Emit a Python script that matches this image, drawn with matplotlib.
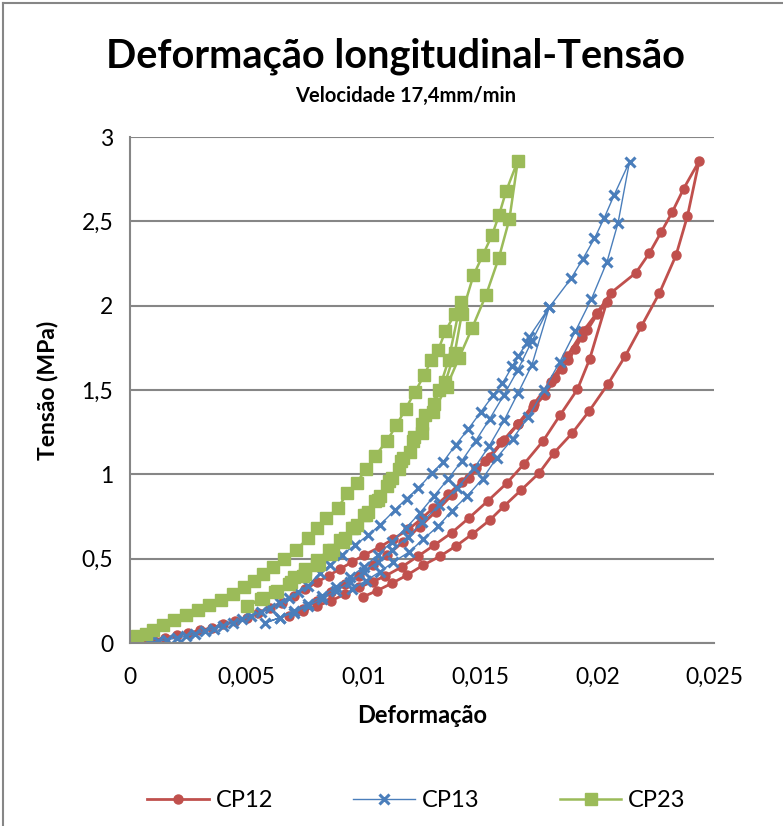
import matplotlib
matplotlib.use("Agg")
import matplotlib.pyplot as plt
from matplotlib.lines import Line2D

plt.rcParams['font.family'] = ['Lato', 'DejaVu Sans']

# CP12: carga 1, descarga 1, carga 2, descarga 2
cp12_def = [0.0000, 0.0005, 0.0010, 0.0015, 0.0020, 0.0025, 0.0030, 0.0035, 0.0040, 0.0045,
            0.0050, 0.0055, 0.0060, 0.0065, 0.0070, 0.0075, 0.0080, 0.0085, 0.0090, 0.0095,
            0.0100, 0.0107, 0.01124, 0.01192, 0.01249, 0.01299, 0.01363, 0.0142, 0.01483, 0.01541,
            0.01602, 0.01662, 0.01727, 0.01775, 0.01819, 0.01849, 0.01876, 0.01905, 0.01933, 0.01958,
            0.0200, 0.0204,
            0.01967, 0.01915, 0.01841, 0.01768, 0.01687, 0.01612, 0.01531, 0.01452, 0.01377, 0.01303,
            0.01234, 0.01163, 0.01092, 0.01039, 0.0098, 0.0092, 0.0086, 0.0080, 0.0074, 0.0068,
            0.0074, 0.0080, 0.0086, 0.0092, 0.0098, 0.0104, 0.0110, 0.0117, 0.0124, 0.0131,
            0.0138, 0.0145, 0.0152, 0.0159, 0.0166, 0.0173, 0.0180, 0.0187, 0.0194, 0.0200,
            0.02059, 0.02165, 0.02223, 0.02273, 0.0232, 0.0237, 0.02436,
            0.02386, 0.02337, 0.02266, 0.02189, 0.02119, 0.02045, 0.01965, 0.01893, 0.01815, 0.01751,
            0.01674, 0.01601, 0.0154, 0.01465, 0.01397, 0.01326, 0.01254, 0.01184, 0.01123, 0.01057,
            0.00999]
cp12_ten = [0.00, 0.01, 0.02, 0.03, 0.045, 0.06, 0.075, 0.09, 0.11, 0.13,
            0.15, 0.18, 0.21, 0.24, 0.28, 0.32, 0.36, 0.40, 0.44, 0.48,
            0.52, 0.57, 0.615, 0.674, 0.739, 0.802, 0.882, 0.957, 1.036, 1.101,
            1.204, 1.297, 1.398, 1.47, 1.569, 1.623, 1.678, 1.742, 1.813, 1.856,
            1.95, 2.02,
            1.682, 1.504, 1.352, 1.198, 1.063, 0.947, 0.842, 0.743, 0.654, 0.581,
            0.516, 0.451, 0.397, 0.364, 0.33, 0.29, 0.25, 0.22, 0.19, 0.16,
            0.20, 0.25, 0.30, 0.35, 0.40, 0.46, 0.52, 0.60, 0.69, 0.78,
            0.88, 0.98, 1.08, 1.19, 1.30, 1.42, 1.55, 1.70, 1.85, 1.96,
            2.077, 2.195, 2.312, 2.435, 2.553, 2.695, 2.858,
            2.532, 2.299, 2.075, 1.879, 1.70, 1.534, 1.375, 1.245, 1.128, 1.008,
            0.907, 0.812, 0.729, 0.646, 0.577, 0.514, 0.461, 0.401, 0.356, 0.31,
            0.275]

# CP13
cp13_def = [0.0000, 0.0004, 0.0008, 0.0012, 0.0016, 0.0020, 0.0024, 0.0028, 0.0032, 0.0036,
            0.0040, 0.0044, 0.0048, 0.0052, 0.0056, 0.0060, 0.0064, 0.0068, 0.0072, 0.0076,
            0.00813, 0.00856, 0.00906, 0.00963, 0.0102, 0.0107, 0.01134, 0.01184, 0.01234, 0.01291,
            0.01341, 0.01395, 0.01448, 0.01502, 0.01555, 0.01594, 0.01637, 0.01662, 0.01698, 0.01709,
            0.01794,
            0.0172, 0.0166, 0.01602, 0.01538, 0.01473, 0.01399, 0.01324, 0.01251, 0.0119, 0.0112,
            0.0106, 0.0100, 0.0094, 0.0088, 0.0082, 0.0076, 0.0070, 0.0064, 0.0058,
            0.0064, 0.0070, 0.0076, 0.0082, 0.0088, 0.0094, 0.0100, 0.0106, 0.0112, 0.0118,
            0.0124, 0.0130, 0.0136, 0.0142, 0.0148, 0.0154, 0.0160, 0.0166, 0.0172, 0.01794,
            0.01888, 0.01938, 0.01988, 0.02029, 0.02073, 0.02138,
            0.02089, 0.02042, 0.01975, 0.01906, 0.01839, 0.01772, 0.01704, 0.01638, 0.01569, 0.01509,
            0.01444, 0.01377, 0.0132, 0.01256, 0.01196, 0.01127, 0.0107, 0.0101, 0.0095]
cp13_ten = [0.00, 0.00, 0.005, 0.01, 0.02, 0.03, 0.04, 0.055, 0.07, 0.085,
            0.10, 0.12, 0.14, 0.16, 0.185, 0.21, 0.24, 0.27, 0.30, 0.34,
            0.413, 0.462, 0.522, 0.581, 0.64, 0.70, 0.789, 0.857, 0.917, 1.006,
            1.075, 1.177, 1.269, 1.371, 1.47, 1.54, 1.642, 1.702, 1.78, 1.816,
            1.99,
            1.648, 1.48, 1.322, 1.17, 1.036, 0.917, 0.818, 0.719, 0.63, 0.551,
            0.48, 0.42, 0.36, 0.31, 0.26, 0.22, 0.18, 0.15, 0.12,
            0.15, 0.19, 0.23, 0.28, 0.33, 0.39, 0.45, 0.52, 0.60, 0.68,
            0.77, 0.87, 0.97, 1.08, 1.20, 1.33, 1.47, 1.62, 1.79, 1.99,
            2.162, 2.277, 2.399, 2.518, 2.659, 2.854,
            2.492, 2.262, 2.04, 1.848, 1.666, 1.50, 1.338, 1.212, 1.097, 0.974,
            0.873, 0.783, 0.694, 0.617, 0.541, 0.48, 0.423, 0.37, 0.32]

# CP23
cp23_def = [0.0000, 0.0003, 0.0007, 0.0010, 0.0014, 0.0019, 0.0024, 0.0029, 0.0034, 0.0039,
            0.0044, 0.0049, 0.0053, 0.0057, 0.0061, 0.0066, 0.0071, 0.0076, 0.0080, 0.0084,
            0.0089, 0.0093, 0.0097, 0.0101, 0.0105, 0.0110, 0.0114, 0.0118, 0.0122, 0.0126,
            0.0129, 0.0132, 0.0135, 0.0139, 0.01415,
            0.01364, 0.01322, 0.01263, 0.01215, 0.0117, 0.0112, 0.0107, 0.0102, 0.0097, 0.0092,
            0.0087, 0.0081, 0.0075, 0.0069, 0.0063, 0.0057, 0.0050,
            0.0056, 0.0062, 0.0068, 0.0074, 0.0080, 0.0086, 0.0091, 0.0096, 0.0101, 0.0106,
            0.0111, 0.0116, 0.0121, 0.0125, 0.0130, 0.0135, 0.0139, 0.0142, 0.0147, 0.0151,
            0.0155, 0.0158, 0.0161, 0.0166,
            0.01624, 0.01579, 0.01524, 0.01465, 0.01408, 0.01355, 0.01298, 0.01248, 0.0120, 0.0115,
            0.0110, 0.0105, 0.0100, 0.0095, 0.0090, 0.0085, 0.0080, 0.0075, 0.0070]
cp23_ten = [0.03, 0.04, 0.055, 0.075, 0.105, 0.135, 0.165, 0.195, 0.225, 0.255,
            0.29, 0.33, 0.37, 0.41, 0.45, 0.50, 0.55, 0.62, 0.68, 0.74,
            0.80, 0.89, 0.95, 1.03, 1.11, 1.20, 1.29, 1.39, 1.49, 1.59,
            1.68, 1.74, 1.85, 1.95, 2.02,
            1.68, 1.50, 1.35, 1.22, 1.10, 0.98, 0.87, 0.78, 0.70, 0.62,
            0.55, 0.47, 0.41, 0.36, 0.31, 0.27, 0.22,
            0.26, 0.30, 0.35, 0.40, 0.46, 0.53, 0.60, 0.68, 0.76, 0.85,
            0.96, 1.08, 1.20, 1.30, 1.42, 1.55, 1.72, 1.95, 2.18, 2.30,
            2.42, 2.54, 2.68, 2.86,
            2.514, 2.285, 2.064, 1.87, 1.69, 1.52, 1.37, 1.243, 1.13, 1.03,
            0.93, 0.84, 0.76, 0.68, 0.61, 0.55, 0.49, 0.44, 0.39]

x_ticks = [0, 0.005, 0.01, 0.015, 0.02, 0.025]
x_labels = ["0", "0,005", "0,01", "0,015", "0,02", "0,025"]
y_ticks = [0, 0.5, 1, 1.5, 2, 2.5, 3]
y_labels = ["0", "0,5", "1", "1,5", "2", "2,5", "3"]

vermelho = "#C0504D"
azul = "#4A7EBB"
verde = "#9BBB59"

fig = plt.figure(figsize=(7.83, 8.26), dpi=100)
ax = fig.add_axes([0.166, 0.2215, 0.746, 0.6125])

ax.plot(cp12_def, cp12_ten, color=vermelho, lw=2, marker="o", ms=6.5, label="CP12")
ax.plot(cp13_def, cp13_ten, color=azul, lw=1, marker="x", ms=7, mew=2.2, label="CP13")
ax.plot(cp23_def, cp23_ten, color=verde, lw=1.8, marker="s", ms=8, label="CP23")

ax.set_xlim(0, 0.025)
ax.set_ylim(0, 3)
ax.set_xticks(x_ticks)
ax.set_xticklabels(x_labels)
ax.set_yticks(y_ticks)
ax.set_yticklabels(y_labels)
ax.tick_params(length=0, labelsize=16.5)
ax.tick_params(axis="x", pad=17)
ax.tick_params(axis="y", pad=12)
ax.yaxis.grid(True, color="#868686", lw=1.5)
ax.set_axisbelow(True)
for s in ["top", "right"]:
    ax.spines[s].set_visible(False)
for s in ["left", "bottom"]:
    ax.spines[s].set_color("#868686")
    ax.spines[s].set_linewidth(1.5)

ax.set_xlabel("Deformação", fontsize=17, fontweight="bold", labelpad=12)
ax.set_ylabel("Tensão (MPa)", fontsize=16.5, fontweight="bold")
ax.yaxis.set_label_coords(-0.123, 0.5)

fig.text(0.505, 0.932, "Deformação longitudinal-Tensão", ha="center", va="center",
         fontsize=28.5, fontweight="bold")
fig.text(0.518, 0.884, "Velocidade 17,4mm/min", ha="center", va="center",
         fontsize=14.5, fontweight="bold")

# moldura do grafico
fig.add_artist(Line2D([0.004, 0.004], [0, 0.996], color="#868686", lw=1.5))
fig.add_artist(Line2D([0.004, 1], [0.996, 0.996], color="#868686", lw=1.5))

fig.legend(loc="center", bbox_to_anchor=(0.532, 0.031), ncol=3, frameon=False,
           fontsize=17, columnspacing=3.4, handlelength=2.6, handletextpad=0.3)

fig.savefig("out.png", dpi=100)
